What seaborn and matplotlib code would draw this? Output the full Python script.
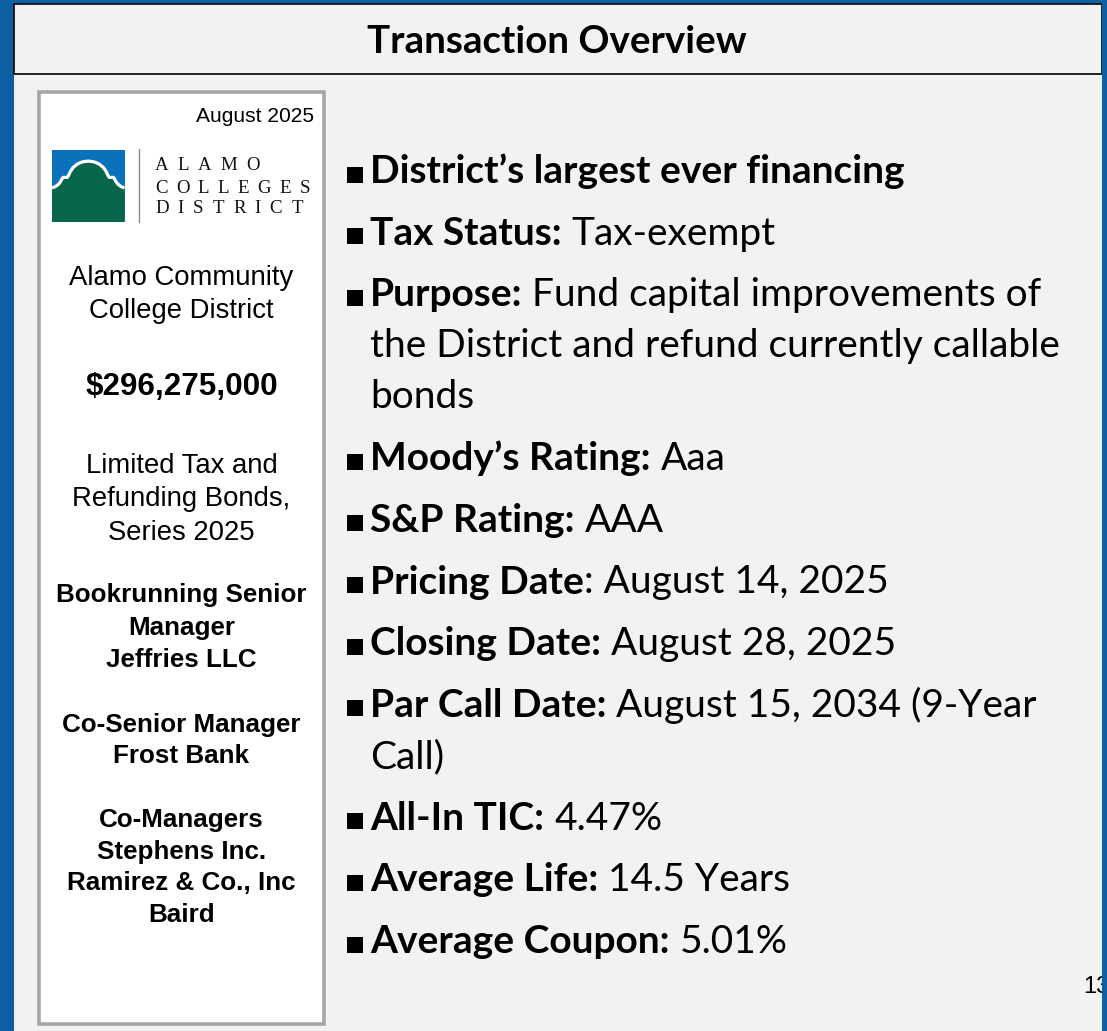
import matplotlib
matplotlib.use("Agg")
import matplotlib.pyplot as plt
import seaborn as sns
import pandas as pd
from matplotlib.patches import Rectangle, Polygon

# slide text
title = "Transaction Overview"
report_date = "August 2025"
page_number = "13"
logo_words = ["ALAMO", "COLLEGES", "DISTRICT"]
issuer = ["Alamo Community", "College District"]
par_amount = ["$296,275,000"]
series = ["Limited Tax and", "Refunding Bonds,", "Series 2025"]
bookrunner = ["Bookrunning Senior", "Manager", "Jeffries LLC"]
co_senior = ["Co-Senior Manager", "Frost Bank"]
co_managers = ["Co-Managers", "Stephens Inc.", "Ramirez & Co., Inc", "Baird"]

bullet_labels = ["District\u2019s largest ever financing", "Tax Status:", "Purpose:",
                 "Moody\u2019s Rating:", "S&P Rating:", "Pricing Date", "Closing Date:",
                 "Par Call Date:", "All-In TIC:", "Average Life:", "Average Coupon:"]
bullet_values = [[""], [" Tax-exempt"],
                 [" Fund capital improvements of", "the District and refund currently callable", "bonds"],
                 [" Aaa"], [" AAA"], [": August 14, 2025"], [" August 28, 2025"],
                 [" August 15, 2034 (9-Year", "Call)"], [" 4.47%"], [" 14.5 Years"], [" 5.01%"]]

W, H = 1107, 1031
BLUE = "#0b5fa2"
PANEL = "#f2f2f2"
INK = "black"
SANS = ["Liberation Sans", "DejaVu Sans"]
BODY = ["Lato", "DejaVu Sans"]
SERIF = ["Liberation Serif", "DejaVu Serif"]

sns.set_style("white")
fig = plt.figure(figsize=(W / 100, H / 100), dpi=100, facecolor=BLUE)
ax = fig.add_axes([0, 0, 1, 1])
ax.set_xlim(0, W)
ax.set_ylim(H, 0)
ax.axis("off")

# panels
ax.add_patch(Rectangle((14, 4), 1088, H, facecolor=PANEL, edgecolor="none", zorder=0))
ax.add_patch(Rectangle((14, 4), 1088, 70, facecolor=PANEL, edgecolor="#111111", lw=1.3, zorder=1))
ax.add_patch(Rectangle((38.7, 91.7), 285.6, 932.6, facecolor="white", edgecolor="#a6a6a6", lw=2.6, zorder=1))

ax.text(557, 53, title, ha="center", va="baseline", fontsize=27.7, fontweight="bold",
        family=BODY, color=INK, zorder=3)

# logo
lx, ly, ls = 52, 222, 72.5
ax.add_patch(Rectangle((lx, ly - ls), ls, ls, facecolor="#0a72ba", edgecolor="none", zorder=2))
half = [(0, 0.47), (0.05, 0.49), (0.09, 0.52), (0.12, 0.56), (0.14, 0.60), (0.155, 0.615),
        (0.21, 0.615), (0.23, 0.645), (0.25, 0.69), (0.29, 0.75), (0.35, 0.80), (0.42, 0.83), (0.5, 0.84)]
profile = half + [(1 - u, v) for u, v in reversed(half[:-1])]
pts = [(lx + ls * u, ly - ls * v) for u, v in profile]
ax.add_patch(Polygon(pts + [(lx + ls, ly), (lx, ly)], closed=True, facecolor="#06654a", edgecolor="none", zorder=3))
ax.plot([p[0] for p in pts], [p[1] for p in pts], color="white", lw=2.3, zorder=4, solid_capstyle="butt")
ax.plot([139, 139], [149, 222], color="#8c8c8c", lw=1.0, zorder=3)

fig.canvas.draw()
renderer = fig.canvas.get_renderer()
inv = ax.transData.inverted()


def text_width(t):
    bb = t.get_window_extent(renderer=renderer)
    x0 = inv.transform((bb.x0, bb.y0))[0]
    x1 = inv.transform((bb.x1, bb.y0))[0]
    return x1 - x0


# spaced-out logo lettering
for word, base, right in zip(logo_words, [170, 192.7, 213.3], [260, 310, 303]):
    letters = [ax.text(0, base, ch, va="baseline", fontsize=13.6, family=SERIF, color="#111111", zorder=3)
               for ch in word]
    widths = [text_width(t) for t in letters]
    gap = (right - 155 - sum(widths)) / (len(word) - 1)
    x = 155
    for t, w in zip(letters, widths):
        t.set_x(x)
        x += w + gap

# left info box
ax.text(314, 122, report_date, ha="right", va="baseline", fontsize=15.1, family=SANS, color=INK, zorder=3)
blocks = [(issuer, 285, 33, "normal", 19.8), (par_amount, 395, 33, "bold", 22.6),
          (series, 473, 33.5, "normal", 19.8), (bookrunner, 602, 32.5, "bold", 18.7),
          (co_senior, 732, 31, "bold", 18.7), (co_managers, 827, 31.7, "bold", 18.7)]
for lines, base, step, weight, size in blocks:
    for i, line in enumerate(lines):
        ax.text(181.5, base + i * step, line, ha="center", va="baseline", fontsize=size,
                fontweight=weight, family=SANS, color=INK, zorder=3)

# bullets
rows = []
base = 183
for label, vals in zip(bullet_labels, bullet_values):
    rows.append({"label": label, "baseline": base, "values": vals})
    base += 61.7 + 51 * (len(vals) - 1)
bullets = pd.DataFrame(rows)
bullets["mx"] = 355
bullets["my"] = bullets["baseline"] - 8.5

sns.scatterplot(data=bullets, x="mx", y="my", marker="s", s=140, color=INK, linewidth=0, ax=ax, zorder=3)
ax.set_xlim(0, W)
ax.set_ylim(H, 0)

FS = 28
for _, r in bullets.iterrows():
    lab = ax.text(370, r["baseline"], r["label"], va="baseline", fontsize=FS, fontweight="bold",
                  family=BODY, color=INK, zorder=3)
    first = r["values"][0]
    if first:
        x = 370 + text_width(lab)
        if first.startswith(" "):
            x += 10
        ax.text(x, r["baseline"], first.strip(), va="baseline", fontsize=FS, family=BODY, color=INK, zorder=3)
    for j, more in enumerate(r["values"][1:], start=1):
        ax.text(370, r["baseline"] + 51 * j, more, va="baseline", fontsize=FS, family=BODY, color=INK, zorder=3)

ax.text(1083, 993, page_number, va="baseline", fontsize=17, family=SANS, color=INK, zorder=3)
ax.add_patch(Rectangle((1102, 0), 10, H, facecolor=BLUE, edgecolor="none", zorder=6))

fig.savefig("out.png", dpi=100, facecolor=BLUE)
